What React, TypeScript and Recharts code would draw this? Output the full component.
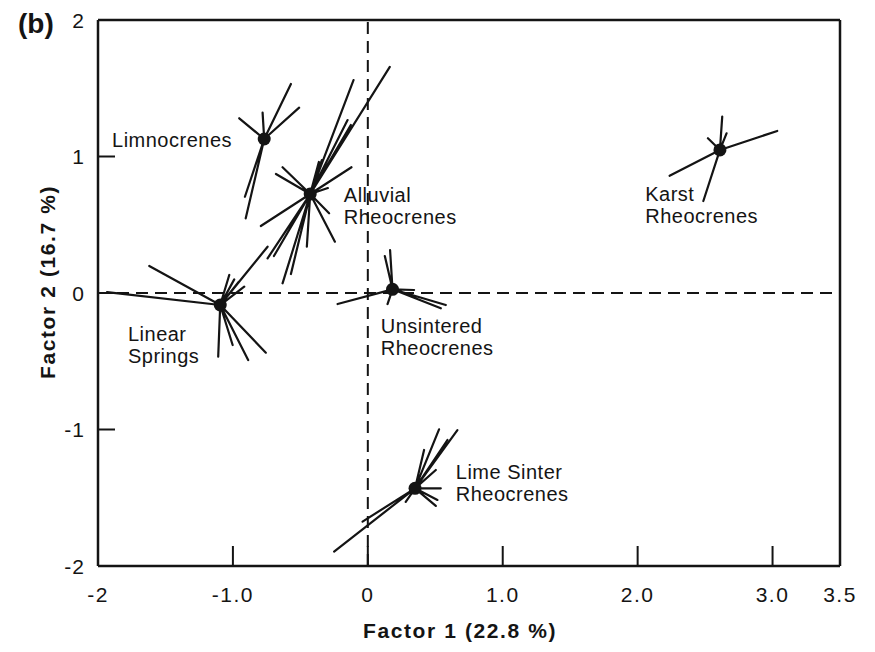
import React from 'react';
import { ScatterChart, Scatter, XAxis, YAxis, ReferenceLine, Label } from 'recharts';

const INK = '#141414';
const FONT = '"Liberation Sans", Arial, Helvetica, sans-serif';

const groupNames = [
  'Limnocrenes',
  'Alluvial Rheocrenes',
  'Linear Springs',
  'Unsintered Rheocrenes',
  'Lime Sinter Rheocrenes',
  'Karst Rheocrenes',
];

const centroidX = [-0.768, -0.427, -1.094, 0.183, 0.35, 2.61];
const centroidY = [1.128, 0.725, -0.088, 0.027, -1.431, 1.048];

const limnoX = [-0.953, -0.78, -0.57, -0.509, -0.911, -0.905];
const limnoY = [1.28, 1.321, 1.531, 1.358, 0.705, 0.547];

const alluvialX = [-0.106, 0.163, -0.15, -0.126, -0.363, -0.341, -0.632, -0.681, -0.121, -0.296, -0.287, -0.244, -0.793, -0.452, -0.57, -0.632, -0.743, -0.696];
const alluvialY = [1.56, 1.656, 1.267, 1.231, 0.96, 0.974, 0.921, 0.872, 0.921, 0.769, 0.584, 0.376, 0.491, 0.339, 0.139, 0.071, 0.254, 0.271];

const linearX = [-1.933, -1.62, -0.743, -1.027, -0.99, -0.956, -0.916, -1.109, -1.002, -0.887, -0.756];
const linearY = [0.007, 0.198, 0.339, 0.132, 0.1, 0.083, 0.046, -0.467, -0.381, -0.491, -0.437];

const unsinteredX = [0.165, 0.126, -0.224, 0.146, 0.578, 0.541, 0.343];
const unsinteredY = [0.315, 0.271, -0.081, -0.081, -0.088, -0.112, 0.022];

const limeX = [-0.25, -0.039, 0.664, 0.528, 0.59, 0.417, 0.504, 0.541, 0.516, 0.504, 0.281];
const limeY = [-1.895, -1.675, -1.004, -0.999, -1.077, -1.15, -1.297, -1.431, -1.516, -1.56, -1.53];

const karstX = [2.627, 2.521, 2.659, 3.035, 2.237, 2.487];
const karstY = [1.292, 1.134, 1.17, 1.187, 0.859, 0.674];

const siteX = [limnoX, alluvialX, linearX, unsinteredX, limeX, karstX];
const siteY = [limnoY, alluvialY, linearY, unsinteredY, limeY, karstY];

const labelLines = [
  ['Limnocrenes'],
  ['Alluvial', 'Rheocrenes'],
  ['Linear', 'Springs'],
  ['Unsintered', 'Rheocrenes'],
  ['Lime Sinter', 'Rheocrenes'],
  ['Karst', 'Rheocrenes'],
];
const labelX = [-1.896, -0.178, -1.778, 0.096, 0.652, 2.056];
const labelY = [1.073, 0.667, -0.352, -0.293, -1.363, 0.674];

const xTicks = [-2, -1, 0, 1, 2, 3, 3.5];
const xTickLabels = ['-2', '-1.0', '0', '1.0', '2.0', '3.0', '3.5'];
const yTicks = [-2, -1, 0, 1, 2];
const yTickLabels = ['-2', '-1', '0', '1', '2'];

const xTitle = 'Factor 1 (22.8 %)';
const yTitle = 'Factor 2 (16.7 %)';
const panelTag = '(b)';

const W = 859;
const H = 636;
const PLOT_LEFT = 90;
const PLOT_BOTTOM = 558;

const starData = groupNames.map((_, i) => {
  const pts: { x: number; y: number }[] = [];
  siteX[i].forEach((sx, j) => {
    pts.push({ x: centroidX[i], y: centroidY[i] });
    pts.push({ x: sx, y: siteY[i][j] });
  });
  pts.push({ x: centroidX[i], y: centroidY[i] });
  return pts;
});

const centroidData = groupNames.map((name, i) => ({ name, x: centroidX[i], y: centroidY[i] }));
const labelData = groupNames.map((name, i) => ({ name, x: labelX[i], y: labelY[i], lines: labelLines[i] }));

const XTick = (props: any) => {
  const { x, payload } = props;
  const v = payload.value;
  const idx = xTicks.indexOf(v);
  const edge = v === -2 || v === 3.5;
  return (
    <g>
      {!edge && <line x1={x} y1={PLOT_BOTTOM} x2={x} y2={PLOT_BOTTOM - 20} stroke={INK} strokeWidth={2} />}
      <text x={x} y={PLOT_BOTTOM + 36} textAnchor="middle" fontFamily={FONT} fontSize={21} letterSpacing={1.5} fill={INK}>
        {xTickLabels[idx]}
      </text>
    </g>
  );
};

const YTick = (props: any) => {
  const { y, payload } = props;
  const v = payload.value;
  const idx = yTicks.indexOf(v);
  const edge = v === -2 || v === 2;
  return (
    <g>
      {!edge && <line x1={PLOT_LEFT} y1={y} x2={PLOT_LEFT + 17} y2={y} stroke={INK} strokeWidth={2} />}
      <text x={PLOT_LEFT - 13} y={y} dy="0.36em" textAnchor="end" fontFamily={FONT} fontSize={21} letterSpacing={1} fill={INK}>
        {yTickLabels[idx]}
      </text>
    </g>
  );
};

const renderLabel = (p: any) => {
  const lines: string[] = p.payload.lines;
  return (
    <text x={p.cx} y={p.cy} fontFamily={FONT} fontSize={20} letterSpacing={0.5} fill={INK}>
      {lines.map((l, k) => (
        <tspan key={k} x={p.cx} dy={k === 0 ? 0 : 22}>
          {l}
        </tspan>
      ))}
    </text>
  );
};

export default function App() {
  return (
    <div style={{ position: 'relative', width: W, height: H, overflow: 'hidden', background: '#fff' }}>
      <ScatterChart width={W} height={H} margin={{ top: 12, right: 27, bottom: 38, left: 30 }}>
        <XAxis
          type="number"
          dataKey="x"
          domain={[-2, 3.5]}
          ticks={xTicks}
          interval={0}
          allowDataOverflow
          height={40}
          tickSize={0}
          tickMargin={0}
          tickLine={false}
          axisLine={{ stroke: INK, strokeWidth: 2.5 }}
          tick={<XTick />}
        >
          <Label
            value={xTitle}
            content={() => (
              <text x={452} y={630} textAnchor="middle" fontFamily={FONT} fontWeight="bold" fontSize={21} letterSpacing={1.6} fill={INK}>
                {xTitle}
              </text>
            )}
          />
        </XAxis>
        <YAxis
          type="number"
          dataKey="y"
          domain={[-2, 2]}
          ticks={yTicks}
          interval={0}
          allowDataOverflow
          width={60}
          tickSize={0}
          tickMargin={0}
          tickLine={false}
          axisLine={{ stroke: INK, strokeWidth: 2.5 }}
          tick={<YTick />}
        >
          <Label
            value={yTitle}
            content={() => (
              <text
                x={39}
                y={274}
                dy="0.36em"
                transform="rotate(-90 39 274)"
                textAnchor="middle"
                fontFamily={FONT}
                fontWeight="bold"
                fontSize={21}
                letterSpacing={1.6}
                fill={INK}
              >
                {yTitle}
              </text>
            )}
          />
        </YAxis>
        <ReferenceLine x={3.5} stroke={INK} strokeWidth={2.5} />
        <ReferenceLine y={2} stroke={INK} strokeWidth={2.5} />
        <ReferenceLine x={0} stroke={INK} strokeWidth={2} strokeDasharray="12 7" />
        <ReferenceLine y={0} stroke={INK} strokeWidth={2} strokeDasharray="12 7" />
        {starData.map((d, i) => (
          <Scatter
            key={groupNames[i]}
            name={groupNames[i]}
            data={d}
            fill={INK}
            line={{ stroke: INK, strokeWidth: 2.2, strokeLinejoin: 'round', strokeLinecap: 'round' }}
            lineType="joint"
            shape={() => <g />}
            isAnimationActive={false}
          />
        ))}
        <Scatter
          name="centroids"
          data={centroidData}
          fill={INK}
          shape={(p: any) => <circle cx={p.cx} cy={p.cy} r={6.5} fill={INK} />}
          isAnimationActive={false}
        />
        <Scatter name="labels" data={labelData} fill={INK} shape={renderLabel} isAnimationActive={false} />
      </ScatterChart>
      <svg style={{ position: 'absolute', left: 0, top: 0, pointerEvents: 'none' }} width={80} height={50}>
        <text x={10} y={25} fontFamily={FONT} fontWeight="bold" fontSize={28} fill={INK}>
          {panelTag}
        </text>
      </svg>
    </div>
  );
}
